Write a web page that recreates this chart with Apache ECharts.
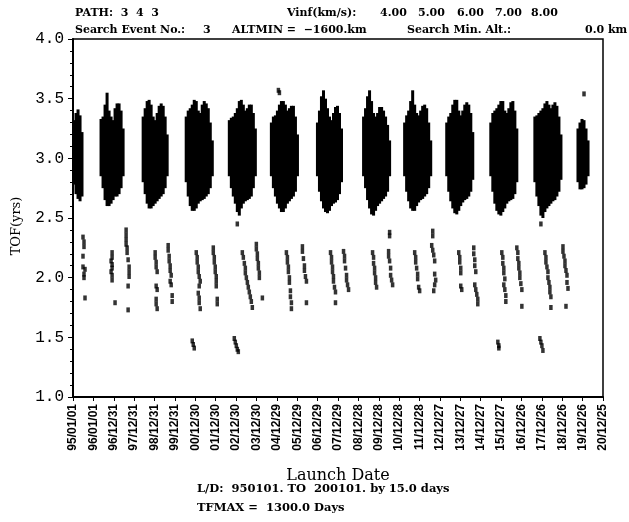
<!DOCTYPE html>
<html>
<head>
<meta charset="utf-8">
<script src="https://cdn.jsdelivr.net/npm/echarts@6/dist/echarts.min.js"></script>
<style>
  html, body { margin: 0; padding: 0; background: #fff; }
  #chart { width: 629px; height: 522px; }
</style>
</head>
<body>
<div id="chart"></div>
<script>
// x = days after 95/01/01, y = TOF in years

var tickLabels = ['95/01/01', '96/01/01', '96/12/31', '97/12/31', '98/12/31', '99/12/31',
    '00/12/30', '01/12/30', '02/12/30', '03/12/30', '04/12/29', '05/12/29', '06/12/29',
    '07/12/29', '08/12/28', '09/12/28', '10/12/28', '11/12/28', '12/12/27', '13/12/27',
    '14/12/27', '15/12/27', '16/12/26', '17/12/26', '18/12/26', '19/12/26', '20/12/25'];

// dense upper band: [launch day, lowest TOF, highest TOF] per column
var upperEarly = [
    [18, 2.78, 3.32], [54, 2.70, 3.38], [90, 2.66, 3.41], [126, 2.64, 3.36], [161, 2.68, 3.22],
    [502, 2.85, 3.33], [538, 2.75, 3.35], [574, 2.65, 3.45], [610, 2.60, 3.55], [646, 2.60, 3.40],
    [682, 2.62, 3.35], [718, 2.65, 3.32], [753, 2.68, 3.42], [789, 2.68, 3.46], [825, 2.70, 3.46],
    [861, 2.75, 3.40], [897, 2.85, 3.25],
    [1256, 2.80, 3.35], [1292, 2.70, 3.42], [1328, 2.62, 3.48], [1363, 2.58, 3.49], [1399, 2.58, 3.45],
    [1435, 2.60, 3.35], [1471, 2.62, 3.32], [1507, 2.64, 3.38], [1543, 2.66, 3.44], [1579, 2.68, 3.46],
    [1615, 2.70, 3.44], [1650, 2.75, 3.35], [1686, 2.85, 3.20],
    [2027, 2.80, 3.35], [2063, 2.68, 3.40], [2099, 2.60, 3.42], [2135, 2.56, 3.45], [2171, 2.56, 3.49],
    [2207, 2.58, 3.48], [2243, 2.62, 3.40], [2278, 2.64, 3.38], [2314, 2.65, 3.45], [2350, 2.66, 3.48],
    [2386, 2.68, 3.46], [2422, 2.70, 3.42], [2458, 2.75, 3.30], [2494, 2.85, 3.15]
];
var upperMid = [
    [2799, 2.85, 3.32], [2835, 2.75, 3.34], [2870, 2.68, 3.35], [2906, 2.62, 3.38], [2942, 2.55, 3.42],
    [2978, 2.52, 3.48], [3014, 2.58, 3.49], [3050, 2.62, 3.45], [3086, 2.64, 3.40], [3122, 2.65, 3.42],
    [3157, 2.66, 3.45], [3193, 2.68, 3.45], [3229, 2.75, 3.38], [3265, 2.85, 3.25],
    [3552, 2.85, 3.30], [3588, 2.75, 3.35], [3624, 2.68, 3.36], [3660, 2.62, 3.40], [3696, 2.58, 3.45],
    [3732, 2.55, 3.48], [3767, 2.55, 3.48], [3803, 2.58, 3.45], [3839, 2.62, 3.40], [3875, 2.64, 3.42],
    [3911, 2.66, 3.44], [3947, 2.68, 3.44], [3983, 2.72, 3.35], [4019, 2.85, 3.20],
    [4377, 2.85, 3.30], [4413, 2.72, 3.40], [4449, 2.64, 3.52], [4485, 2.58, 3.57], [4521, 2.55, 3.50],
    [4557, 2.54, 3.42], [4593, 2.56, 3.35], [4629, 2.60, 3.32], [4664, 2.62, 3.38], [4700, 2.63, 3.43],
    [4736, 2.65, 3.44], [4772, 2.70, 3.38], [4808, 2.80, 3.25],
    [5203, 2.85, 3.35], [5238, 2.75, 3.42], [5274, 2.65, 3.52], [5310, 2.58, 3.57], [5346, 2.53, 3.48],
    [5382, 2.52, 3.38], [5418, 2.56, 3.35], [5454, 2.60, 3.38], [5490, 2.62, 3.43], [5526, 2.64, 3.43],
    [5561, 2.66, 3.40], [5597, 2.68, 3.35], [5633, 2.72, 3.28], [5669, 2.85, 3.15],
    [5938, 2.85, 3.30], [5974, 2.72, 3.36], [6010, 2.64, 3.40], [6046, 2.58, 3.48], [6082, 2.56, 3.57],
    [6118, 2.56, 3.45], [6153, 2.60, 3.38], [6189, 2.63, 3.36], [6225, 2.65, 3.40], [6261, 2.66, 3.44],
    [6297, 2.68, 3.45], [6333, 2.70, 3.42], [6369, 2.75, 3.30], [6405, 2.85, 3.15]
];
var upperLate = [
    [6692, 2.85, 3.30], [6728, 2.72, 3.35], [6764, 2.64, 3.38], [6800, 2.58, 3.45], [6836, 2.54, 3.49],
    [6872, 2.53, 3.49], [6908, 2.56, 3.40], [6943, 2.60, 3.36], [6979, 2.63, 3.40], [7015, 2.65, 3.45],
    [7051, 2.66, 3.47], [7087, 2.68, 3.45], [7123, 2.72, 3.38], [7158, 2.82, 3.22],
    [7481, 2.85, 3.30], [7517, 2.72, 3.38], [7553, 2.62, 3.40], [7589, 2.56, 3.42], [7625, 2.53, 3.45],
    [7661, 2.52, 3.48], [7696, 2.55, 3.48], [7732, 2.58, 3.40], [7768, 2.62, 3.38], [7804, 2.64, 3.42],
    [7840, 2.65, 3.47], [7876, 2.66, 3.48], [7912, 2.70, 3.40], [7947, 2.80, 3.25],
    [8270, 2.80, 3.35], [8306, 2.68, 3.36], [8342, 2.60, 3.38], [8378, 2.52, 3.40], [8414, 2.50, 3.42],
    [8450, 2.55, 3.46], [8486, 2.58, 3.48], [8522, 2.60, 3.45], [8557, 2.62, 3.42], [8593, 2.64, 3.45],
    [8629, 2.65, 3.47], [8665, 2.68, 3.44], [8701, 2.72, 3.35], [8737, 2.82, 3.20],
    [9042, 2.80, 3.25], [9078, 2.74, 3.30], [9114, 2.74, 3.33], [9150, 2.75, 3.32], [9186, 2.78, 3.25],
    [9222, 2.85, 3.15]
];

// lower band points: [launch day, TOF]
var lowerEarly = [
    [179, 2.34], [197, 2.30], [197, 2.26], [179, 2.18], [179, 2.09], [215, 2.07], [197, 2.03], [197, 2.00], [215, 1.83],
    [700, 2.21], [700, 2.17], [682, 2.14], [700, 2.11], [700, 2.08], [682, 2.05], [700, 2.02], [700, 1.98], [753, 1.79],
    [951, 2.40], [951, 2.36], [951, 2.32], [951, 2.28], [969, 2.25], [969, 2.21], [987, 2.15], [1005, 2.09],
    [1005, 2.05], [1005, 2.01], [987, 1.93], [987, 1.73],
    [1471, 2.21], [1471, 2.17], [1489, 2.13], [1489, 2.09], [1507, 2.05], [1489, 1.93], [1507, 1.90], [1489, 1.82],
    [1489, 1.78], [1507, 1.74],
    [1704, 2.27], [1704, 2.23], [1722, 2.18], [1722, 2.14], [1740, 2.10], [1740, 2.06], [1758, 2.02], [1740, 1.97],
    [1758, 1.94], [1776, 1.85], [1776, 1.80],
    [2207, 2.21], [2224, 2.17], [2224, 2.13], [2243, 2.09], [2243, 2.05], [2260, 2.01], [2278, 1.97], [2260, 1.93],
    [2243, 1.87], [2260, 1.83], [2260, 1.79], [2278, 1.74],
    [2512, 2.25], [2512, 2.21], [2530, 2.17], [2530, 2.13], [2547, 2.09], [2547, 2.05], [2565, 2.01], [2565, 1.97],
    [2565, 1.93], [2583, 1.82], [2583, 1.78]
];
var lowerMid = [
    [3032, 2.21], [3050, 2.17], [3068, 2.12], [3086, 2.08], [3086, 2.04], [3104, 2.00], [3122, 1.96], [3139, 1.92],
    [3157, 1.88], [3175, 1.84], [3193, 1.80], [3211, 1.75],
    [3283, 2.28], [3283, 2.24], [3301, 2.20], [3301, 2.16], [3319, 2.12], [3319, 2.08], [3337, 2.04], [3337, 2.00], [3391, 1.83],
    [3821, 2.21], [3839, 2.17], [3839, 2.13], [3857, 2.09], [3857, 2.05], [3875, 2.00], [3875, 1.96], [3893, 1.89],
    [3893, 1.84], [3911, 1.79], [3911, 1.74],
    [4108, 2.26], [4108, 2.22], [4126, 2.16], [4144, 2.10], [4144, 2.06], [4162, 2.01], [4180, 1.97], [4180, 1.79],
    [4611, 2.21], [4629, 2.17], [4629, 2.13], [4647, 2.09], [4647, 2.05], [4664, 2.01], [4664, 1.97], [4682, 1.92],
    [4700, 1.88], [4700, 1.79],
    [4844, 2.22], [4862, 2.18], [4862, 2.14], [4880, 2.08], [4898, 2.02], [4898, 1.98], [4916, 1.94], [4934, 1.90],
    [5364, 2.21], [5382, 2.17], [5382, 2.12], [5400, 2.08], [5400, 2.04], [5418, 2.00], [5418, 1.96], [5436, 1.92],
    [5669, 2.38], [5669, 2.35], [5651, 2.22], [5651, 2.18], [5669, 2.14], [5687, 2.08], [5687, 2.02], [5705, 1.98], [5723, 1.94]
];
var lowerLate = [
    [6118, 2.21], [6136, 2.17], [6136, 2.13], [6153, 2.08], [6171, 2.03], [6171, 1.99], [6189, 1.92], [6207, 1.89],
    [6441, 2.39], [6441, 2.35], [6423, 2.27], [6441, 2.23], [6459, 2.19], [6476, 2.14], [6476, 2.03], [6494, 1.98],
    [6476, 1.94], [6459, 1.89],
    [6907, 2.21], [6925, 2.17], [6925, 2.13], [6943, 2.08], [6943, 2.04], [6943, 1.93], [6961, 1.90],
    [7176, 2.25], [7176, 2.20], [7194, 2.15], [7194, 2.10], [7212, 2.05], [7194, 1.94], [7212, 1.90], [7230, 1.86],
    [7248, 1.82], [7248, 1.78],
    [7678, 2.21], [7696, 2.17], [7696, 2.12], [7714, 2.08], [7714, 2.04], [7732, 1.99], [7714, 1.94], [7732, 1.90],
    [7750, 1.85], [7750, 1.80],
    [7947, 2.25], [7965, 2.21], [7965, 2.16], [7983, 2.12], [7983, 2.08], [8001, 2.04], [8001, 2.00], [8019, 1.95],
    [8037, 1.90], [8037, 1.76],
    [8450, 2.21], [8468, 2.17], [8468, 2.13], [8486, 2.09], [8504, 2.05], [8504, 2.00], [8522, 1.96], [8539, 1.92],
    [8539, 1.88], [8557, 1.84], [8557, 1.75],
    [8773, 2.26], [8773, 2.22], [8791, 2.18], [8809, 2.14], [8809, 2.10], [8827, 2.06], [8845, 2.02], [8845, 1.96],
    [8863, 1.91], [8827, 1.76]
];
var shortTof = [
    [2135, 1.47], [2153, 1.44], [2171, 1.41],
    [2888, 1.49], [2906, 1.46], [2924, 1.43], [2942, 1.40], [2960, 1.38],
    [7607, 1.46], [7625, 1.43], [7625, 1.41],
    [8360, 1.49], [8378, 1.46], [8396, 1.43], [8414, 1.39]
];
var strays = [[2942, 2.45], [8378, 2.45], [3678, 3.57], [3696, 3.55], [9150, 3.54]];

var upperBand = upperEarly.concat(upperMid, upperLate);
var lowerBand = lowerEarly.concat(lowerMid, lowerLate, shortTof, strays);

var myChart = echarts.init(document.getElementById('chart'));

var headFont = 'bold 11px "DejaVu Serif"';
function label(x, y, text, font) {
    return { type: 'text', left: x, top: y, style: { text: text, font: font || headFont, fill: '#000' } };
}

var option = {
    backgroundColor: '#fff',
    animation: false,
    grid: {
        left: 73, right: 26, top: 39, bottom: 125,
        show: true, borderColor: '#000', borderWidth: 1.5
    },
    xAxis: {
        type: 'value',
        min: 0,
        max: 9490,
        interval: 365,
        name: 'Launch Date',
        nameLocation: 'middle',
        nameGap: 71,
        nameTextStyle: { fontFamily: 'DejaVu Serif', fontSize: 16, color: '#000' },
        axisLine: { lineStyle: { color: '#000', width: 2 } },
        axisTick: { show: true, length: 4, lineStyle: { color: '#000' } },
        splitLine: { show: false },
        axisLabel: {
            rotate: 90,
            margin: 7,
            color: '#000',
            fontFamily: 'Liberation Sans',
            fontWeight: 'bold',
            fontSize: 12,
            showMinLabel: true,
            showMaxLabel: true,
            formatter: function (v) {
                return tickLabels[Math.round(v / 365)];
            }
        }
    },
    yAxis: {
        type: 'value',
        min: 1,
        max: 4,
        interval: 0.5,
        axisLine: { show: true, lineStyle: { color: '#000', width: 2 } },
        axisTick: { show: true, length: 5, lineStyle: { color: '#000' } },
        minorTick: { show: true, splitNumber: 5, length: 3, lineStyle: { color: '#000' } },
        splitLine: { show: false },
        axisLabel: {
            color: '#000',
            fontFamily: 'Liberation Mono',
            fontSize: 16,
            margin: 9,
            formatter: function (v) { return v.toFixed(1); }
        }
    },
    series: [{
        type: 'custom',
        clip: true,
        data: upperBand,
        encode: { x: 0, y: [1, 2] },
        renderItem: function (params, api) {
            var top = api.coord([api.value(0), api.value(2)]);
            var bottom = api.coord([api.value(0), api.value(1)]);
            var w = api.size([36, 0])[0] + 1;
            return {
                type: 'rect',
                shape: { x: top[0] - w / 2, y: top[1], width: w, height: bottom[1] - top[1] },
                style: { fill: '#000' }
            };
        }
    }, {
        type: 'scatter',
        data: lowerBand,
        symbol: 'rect',
        symbolSize: [3.5, 5],
        itemStyle: { color: '#000' }
    }],
    graphic: [
        label(75, 8, 'PATH:  3  4  3'),
        label(287, 8, 'Vinf(km/s):'),
        label(380, 8, '4.00'),
        label(418, 8, '5.00'),
        label(457, 8, '6.00'),
        label(495, 8, '7.00'),
        label(531, 8, '8.00'),
        label(75, 25, 'Search Event No.:'),
        label(203, 25, '3'),
        label(232, 25, 'ALTMIN =  \u22121600.km'),
        label(407, 25, 'Search Min. Alt.:'),
        label(585, 25, '0.0 km'),
        label(197, 483, 'L/D:  950101. TO  200101. by 15.0 days', 'bold 11.5px "DejaVu Serif"'),
        label(197, 502, 'TFMAX =  1300.0 Days', 'bold 11.5px "DejaVu Serif"'),
        {
            type: 'text', x: 17, y: 226, rotation: Math.PI / 2,
            style: { text: 'TOF(yrs)', font: '13px "DejaVu Serif"', fill: '#000', align: 'center', verticalAlign: 'middle' }
        }
    ]
};

myChart.setOption(option);
</script>
</body>
</html>
